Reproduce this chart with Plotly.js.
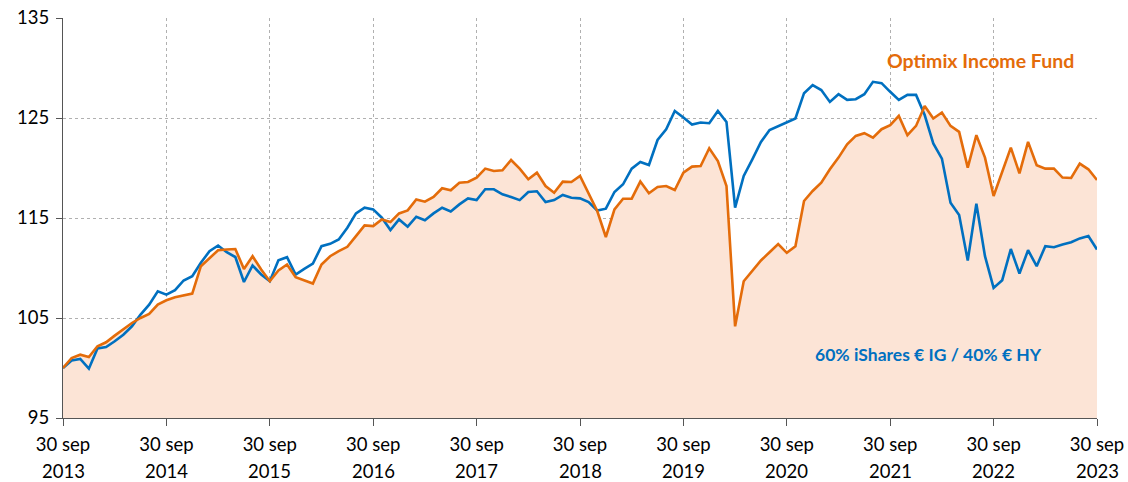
<!DOCTYPE html>
<html>
<head>
<meta charset="utf-8">
<script src="https://cdn.plot.ly/plotly-3.0.1.min.js"></script>
<style>html,body{margin:0;padding:0;background:#fff;}#chart{width:1128px;height:482px;}</style>
</head>
<body>
<div id="chart"></div>
<script>
// Month index 0 = 30 sep 2013 ... 120 = 30 sep 2023
const yearLabels = ["2013","2014","2015","2016","2017","2018","2019","2020","2021","2022","2023"];
const tickPrefix = "30 sep";
const yTicks = [95, 105, 115, 125, 135];

const benchmark = [
100.0,100.76,100.9,99.93,101.96,102.1,102.67,103.33,104.17,105.34,
106.34,107.67,107.34,107.78,108.75,109.18,110.52,111.68,112.25,111.58,
111.1,108.6,110.25,109.35,108.68,110.78,111.08,109.35,109.92,110.45,
112.18,112.42,112.85,114.03,115.46,116.03,115.86,115.03,113.79,114.86,
114.13,115.13,114.78,115.46,116.03,115.66,116.36,116.96,116.79,117.87,
117.87,117.37,117.1,116.79,117.6,117.67,116.6,116.79,117.3,117.03,
116.96,116.6,115.75,115.93,117.6,118.37,119.94,120.6,120.3,122.8,
123.88,125.71,125.05,124.35,124.55,124.48,125.71,124.61,116.03,119.2,
120.87,122.61,123.8,124.21,124.58,124.95,127.48,128.29,127.79,126.61,
127.38,126.81,126.88,127.38,128.62,128.49,127.62,126.81,127.31,127.31,
125.3,122.45,120.94,116.53,115.3,110.75,116.43,111.18,108.01,108.78,
111.9,109.45,111.78,110.18,112.18,112.08,112.35,112.58,112.96,113.19,
111.85];

const fund = [
100.0,101.0,101.33,101.1,102.17,102.57,103.24,103.84,104.5,105.0,
105.4,106.34,106.77,107.07,107.27,107.44,110.18,111.0,111.78,111.85,
111.9,109.9,111.18,109.85,108.68,109.75,110.35,109.08,108.78,108.45,
110.35,111.18,111.68,112.12,113.19,114.26,114.19,114.86,114.59,115.46,
115.76,116.86,116.63,117.1,117.97,117.77,118.53,118.6,119.04,119.94,
119.7,119.77,120.8,119.94,118.87,119.54,118.2,117.53,118.64,118.6,
119.2,117.47,115.7,113.1,115.86,116.93,116.93,118.64,117.47,118.1,
118.2,117.8,119.54,120.14,120.2,121.97,120.7,118.2,104.17,108.68,
109.68,110.75,111.58,112.4,111.52,112.18,116.7,117.7,118.53,119.87,
121.04,122.37,123.21,123.48,123.04,123.88,124.28,125.21,123.28,124.21,
126.21,124.95,125.55,124.21,123.61,120.04,123.28,121.04,117.2,119.7,
122.04,119.47,122.61,120.27,119.94,119.94,119.04,119.0,120.44,119.87,
118.8];

const fundName = "Optimix Income Fund";
const benchName = "60% iShares € IG / 40% € HY";

const months = fund.map((_, i) => i);
const tickvals = yearLabels.map((_, i) => i * 12);

const orange = "#E46C0A";
const blue = "#0070C0";
const font = "Lato, 'Open Sans', sans-serif";
const tickSize = 18.5;

const traces = [
  {x: months, y: fund, type: "scatter", mode: "lines", fill: "tozeroy",
   fillcolor: "#FCE4D6", line: {width: 0, color: orange}, hoverinfo: "skip", showlegend: false},
  {x: months, y: benchmark, type: "scatter", mode: "lines", name: benchName,
   line: {width: 2.6, color: blue}, showlegend: false},
  {x: months, y: fund, type: "scatter", mode: "lines", name: fundName,
   line: {width: 2.6, color: orange}, showlegend: false}
];

const yearAnnotations = yearLabels.map((y, i) => ({
  x: tickvals[i], y: 0, xref: "x", yref: "paper", yanchor: "middle",
  yshift: -53, text: y, showarrow: false,
  font: {family: font, size: tickSize, color: "#000"}
}));

const layout = {
  width: 1128, height: 482,
  margin: {l: 63, r: 31, t: 18, b: 64},
  paper_bgcolor: "#fff", plot_bgcolor: "#fff",
  font: {family: font, size: tickSize, color: "#000"},
  xaxis: {
    range: [0, 120], tickvals: tickvals, ticktext: tickvals.map(() => tickPrefix),
    showgrid: true, gridcolor: "#b0b0b0", griddash: "dot", gridwidth: 1,
    showline: true, linecolor: "#555", linewidth: 1,
    ticks: "outside", ticklen: 7, tickcolor: "#555", ticklabelstandoff: 3,
    zeroline: false, tickfont: {family: font, size: tickSize, color: "#000"}
  },
  yaxis: {
    range: [95, 135], tickvals: yTicks,
    showgrid: true, gridcolor: "#b0b0b0", griddash: "dot", gridwidth: 1,
    showline: true, linecolor: "#555", linewidth: 1,
    ticks: "outside", ticklen: 6, tickcolor: "#555", ticklabelstandoff: 3,
    zeroline: false, tickfont: {family: font, size: tickSize, color: "#000"}
  },
  annotations: [
    {x: 106.5, y: 130.8, xref: "x", yref: "y", text: "<b>" + fundName + "</b>", showarrow: false,
     font: {family: font, size: 19.5, color: orange}},
    {x: 100.5, y: 101.4, xref: "x", yref: "y", text: "<b>" + benchName + "</b>", showarrow: false,
     font: {family: font, size: 17.5, color: blue}}
  ].concat(yearAnnotations)
};

Plotly.newPlot("chart", traces, layout, {displayModeBar: false, staticPlot: true});
</script>
</body>
</html>
